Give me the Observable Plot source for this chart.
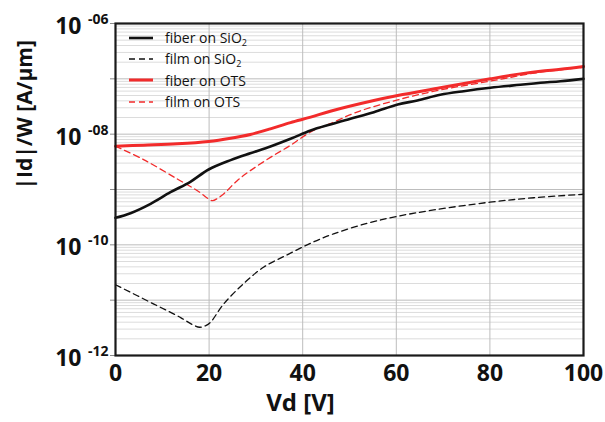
<!DOCTYPE html>
<html>
<head>
<meta charset="utf-8">
<script src="https://cdn.jsdelivr.net/npm/d3@7"></script>
<script src="https://cdn.jsdelivr.net/npm/@observablehq/plot@0.6"></script>
<style>
  html, body { margin: 0; padding: 0; background: #fff; }
  #wrap { position: relative; width: 605px; height: 422px; font-family: "Open Sans", "Liberation Sans", sans-serif; }
  #legend { position: absolute; left: 128px; top: 27px; font-size: 14px; color: #111; }
  #legend .row { display: flex; align-items: center; height: 21.3px; }
  #legend svg { width: 26px; height: 10px; margin-right: 11px; }
  #legend sub { font-size: 9px; vertical-align: -3px; line-height: 0; }
</style>
</head>
<body>
<div id="wrap"></div>
<script>
// ---- data (Vd in V, |Id|/W in A/µm) ----
const seriesNames = ["fiber on SiO2", "film on SiO2", "fiber on OTS", "film on OTS"];

const vdFiberSiO2 = [0, 3.2, 7.5, 11.75, 16, 19.9, 24.6, 28.8, 33.1, 37.4, 41.7, 45.9, 50.2, 55.2, 60.3, 64.5, 69.4, 74.4, 80.1, 86.5, 90.8, 95.1, 100];
const idFiberSiO2 = [3.08e-10, 3.73e-10, 5.51e-10, 8.93e-10, 1.38e-9, 2.30e-9, 3.40e-9, 4.53e-9, 5.98e-9, 8.24e-9, 1.164e-8, 1.496e-8, 1.897e-8, 2.49e-8, 3.44e-8, 4.06e-8, 5.14e-8, 5.98e-8, 6.89e-8, 7.80e-8, 8.47e-8, 9.06e-8, 1.0e-7];

const vdFilmSiO2 = [0, 8.2, 14, 16.5, 18, 19.3, 20.3, 23.1, 27.4, 31.7, 36.7, 41.7, 46.6, 53.8, 60, 68, 80, 89.4, 100];
const idFilmSiO2 = [1.9e-11, 8.5e-12, 4.8e-12, 3.6e-12, 3.24e-12, 3.47e-12, 3.98e-12, 8.5e-12, 2.0e-11, 3.98e-11, 6.6e-11, 1.07e-10, 1.58e-10, 2.45e-10, 3.24e-10, 4.27e-10, 5.9e-10, 7.1e-10, 8.2e-10];

const vdFiberOTS = [0, 6, 13.2, 19.9, 24.6, 28.8, 33.1, 37.4, 41.7, 45.9, 55.2, 60.3, 69.4, 80.1, 86.5, 90.8, 95.1, 100];
const idFiberOTS = [6.05e-9, 6.32e-9, 6.68e-9, 7.36e-9, 8.41e-9, 9.86e-9, 1.247e-8, 1.62e-8, 2.03e-8, 2.60e-8, 4.06e-8, 5.0e-8, 6.89e-8, 1.0e-7, 1.23e-7, 1.374e-7, 1.49e-7, 1.67e-7];

const vdFilmOTS = [0, 6, 13.2, 18, 19.5, 20.7, 22, 23.1, 26, 28.8, 33.1, 37.4, 41.7, 45.9, 51.6, 60.3, 69.4, 80.1, 90, 100];
const idFilmOTS = [6.05e-9, 3.47e-9, 1.55e-9, 8.9e-10, 7.1e-10, 6.3e-10, 7.1e-10, 8.3e-10, 1.445e-9, 2.19e-9, 3.8e-9, 6.3e-9, 1.096e-8, 1.55e-8, 2.51e-8, 4.17e-8, 6.3e-8, 9.1e-8, 1.29e-7, 1.62e-7];

const xTicks = [0, 20, 40, 60, 80, 100];
const xGrid = [20, 40, 60, 80];
const yDecades = [1e-12, 1e-11, 1e-10, 1e-9, 1e-8, 1e-7, 1e-6];
const yLabelDecades = [1e-12, 1e-10, 1e-8, 1e-6];
const yLabelExponents = ["-12", "-10", "-08", "-06"];

// ---- build tables ----
const toRows = (vd, id) => vd.map((v, i) => ({vd: v, id: id[i]}));
const fiberSiO2 = toRows(vdFiberSiO2, idFiberSiO2);
const filmSiO2 = toRows(vdFilmSiO2, idFilmSiO2);
const fiberOTS = toRows(vdFiberOTS, idFiberOTS);
const filmOTS = toRows(vdFilmOTS, idFilmOTS);

const yMinor = [];
for (let e = -12; e < -6; e++) for (let m = 2; m <= 9; m++) yMinor.push(m * Math.pow(10, e));

const red = "#f22b2b";
const black = "#111111";
const font = "Open Sans, Liberation Sans, sans-serif";

const chart = Plot.plot({
  width: 605,
  height: 422,
  marginLeft: 115,
  marginRight: 22,
  marginTop: 23,
  marginBottom: 67,
  style: {fontFamily: font, background: "#fff", color: "#111"},
  x: {domain: [0, 100], axis: null},
  y: {type: "log", domain: [1e-12, 1e-6], axis: null},
  marks: [
    Plot.ruleY(yMinor, {stroke: "#dcdcdc", strokeWidth: 1}),
    Plot.ruleY(yDecades, {stroke: "#bdbdbd", strokeWidth: 1}),
    Plot.ruleX(xGrid, {stroke: "#bdbdbd", strokeWidth: 1}),
    Plot.axisY(yDecades, {tickSize: 5, tickFormat: () => "", stroke: "#8a8a8a", label: null}),
    Plot.line(filmSiO2, {x: "vd", y: "id", stroke: black, strokeWidth: 1.3, strokeDasharray: "6,4", curve: "catmull-rom"}),
    Plot.line(filmOTS, {x: "vd", y: "id", stroke: red, strokeWidth: 1.3, strokeDasharray: "6,4", curve: "catmull-rom"}),
    Plot.line(fiberSiO2, {x: "vd", y: "id", stroke: black, strokeWidth: 2.6, curve: "catmull-rom"}),
    Plot.line(fiberOTS, {x: "vd", y: "id", stroke: red, strokeWidth: 3, curve: "catmull-rom"}),
    Plot.frame({stroke: "#1a1a1a", strokeWidth: 2.2}),
    // x tick labels
    Plot.text(xTicks, {x: d => d, frameAnchor: "bottom", dy: 25, text: d => String(d), fontSize: 23, fontWeight: "bold", fill: "#111"}),
    // y tick labels: "10" + superscript exponent
    Plot.text(yLabelDecades, {y: d => d, frameAnchor: "left", dx: -34, dy: 3, text: () => "10", textAnchor: "end", fontSize: 23, fontWeight: "bold", fill: "#111"}),
    Plot.text(yLabelDecades, {y: d => d, frameAnchor: "left", dx: -7, dy: -4, text: (d, i) => yLabelExponents[i], textAnchor: "end", fontSize: 14, fontWeight: "bold", fill: "#111"}),
    // axis titles
    Plot.text(["Vd [V]"], {frameAnchor: "bottom", dx: -49, dy: 55, text: d => d, fontSize: 24, fontWeight: "bold", fill: "#111"}),
    Plot.text(["|Id|/W [A/µm]"], {frameAnchor: "left", dx: -90, rotate: -90, text: d => d, fontSize: 21, fontWeight: "bold", fill: "#111"})
  ]
});

const wrap = document.getElementById("wrap");
wrap.appendChild(chart);

// legend (inside plot, top-left)
const legendStyles = [
  {stroke: black, width: 2.6, dash: null},
  {stroke: black, width: 1.3, dash: "6,4"},
  {stroke: red, width: 3, dash: null},
  {stroke: red, width: 1.3, dash: "6,4"}
];
const legend = document.createElement("div");
legend.id = "legend";
seriesNames.forEach((name, i) => {
  const s = legendStyles[i];
  const row = document.createElement("div");
  row.className = "row";
  const label = name.replace("SiO2", "SiO<sub>2</sub>");
  row.innerHTML = `<svg viewBox="0 0 26 10"><line x1="1" y1="5" x2="25" y2="5" stroke="${s.stroke}" stroke-width="${s.width}" ${s.dash ? `stroke-dasharray="${s.dash}"` : ""}/></svg><span>${label}</span>`;
  legend.appendChild(row);
});
wrap.appendChild(legend);
</script>
</body>
</html>
